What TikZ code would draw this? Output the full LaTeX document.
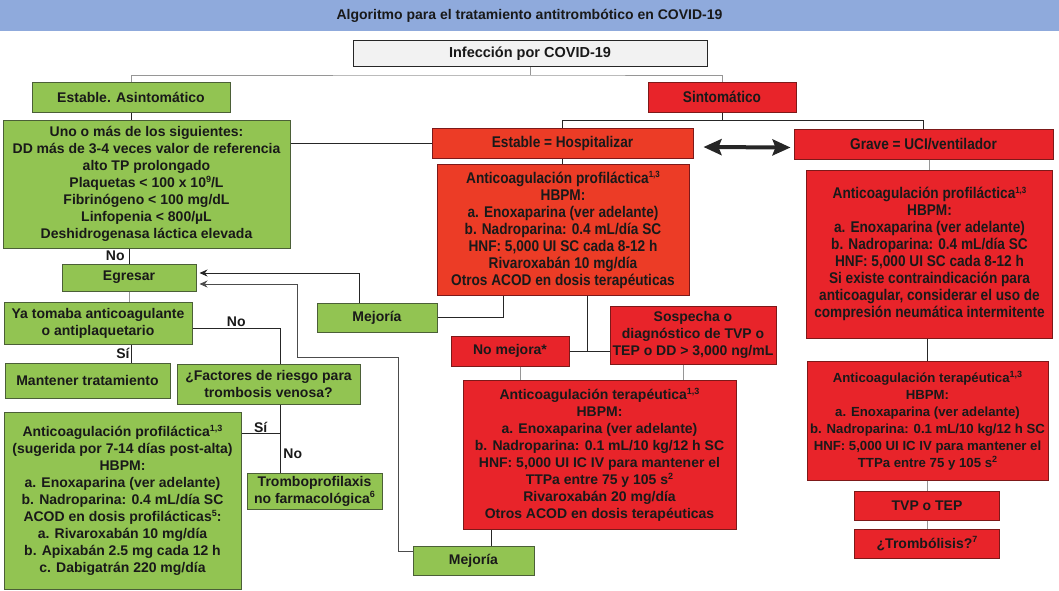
\documentclass[tikz,border=0pt]{standalone}
\usepackage{fontspec}
\setmainfont{Liberation Sans}
\newfontfamily\narrowfont[FakeStretch=0.88]{Liberation Sans}
\usetikzlibrary{arrows.meta}

\definecolor{titleblue}{RGB}{143,170,220}
\definecolor{boxgreen}{RGB}{146,196,82}
\definecolor{greenedge}{RGB}{75,95,55}
\definecolor{boxred}{RGB}{232,36,42}
\definecolor{boxorange}{RGB}{236,60,38}
\definecolor{rededge}{RGB}{125,25,25}
\definecolor{boxgray}{RGB}{242,242,242}
\definecolor{linegray}{RGB}{150,150,150}

\newcommand{\supr}[1]{\raisebox{0.7ex}{\fontsize{9}{9}\selectfont #1}}

\begin{document}
\begin{tikzpicture}[
        x=1pt, y=-1pt,
        every node/.style={font=\bfseries\fontsize{14}{17}\selectfont, text=black!90, align=center, inner sep=1pt},
        sz/.style 2 args={minimum width=#1pt, minimum height=#2pt},
        gbox/.style={draw=greenedge, line width=1pt, fill=boxgreen},
        rbox/.style={draw=rededge, line width=1pt, fill=boxred},
        obox/.style={draw=rededge, line width=1pt, fill=boxorange},
        narrow/.style={font=\narrowfont\bfseries\fontsize{15.5}{17}\selectfont},
        conn/.style={line width=0.8pt, draw=black!85},
        gconn/.style={line width=0.8pt, draw=linegray},
        arr/.style={conn, shorten >=3pt, -{Stealth[length=8pt,width=7pt]}},
        dbl/.style={line width=4pt, draw=black!85, shorten <=1pt, shorten >=1pt,
            {Stealth[length=18pt,width=16pt,inset=3pt]}-{Stealth[length=18pt,width=16pt,inset=3pt]}}
    ]
        \useasboundingbox (0,0) rectangle (1059,590);

        % Title and start
        \node[fill=titleblue, sz={1059}{31}, font=\bfseries\fontsize{14}{16}\selectfont] (title) at (529.5,15.5)
            {Algoritmo para el tratamiento antitrombótico en COVID-19};
        \node[draw=black!85, line width=1pt, fill=boxgray, sz={354}{26}, font=\bfseries\fontsize{14.5}{17}\selectfont] (infec) at (530,53.5) {Infección por COVID-19};

        % Left column
        \node[gbox, sz={198}{30}] (asin) at (131,97) {Estable. Asintomático};
        \node[gbox, sz={287}{128}] (uno) at (146.5,184) {Uno o más de los siguientes:\\
            DD más de 3-4 veces valor de referencia\\alto TP prolongado\\
            Plaquetas < 100 x 10\supr{9}/L\\Fibrinógeno < 100 mg/dL\\
            Linfopenia < 800/µL\\Deshidrogenasa láctica elevada};
        \node[gbox, sz={134}{27}] (egresar) at (129,277.5) {Egresar};
        \node[gbox, sz={188}{42}] (yatom) at (98,323) {Ya tomaba anticoagulante\\o antiplaquetario};
        \node[gbox, sz={165}{35}] (mant) at (87.5,380.5) {Mantener tratamiento};
        \node[gbox, sz={183}{40}] (fact) at (268.5,384) {¿Factores de riesgo para\\trombosis venosa?};
        \node[gbox, sz={237}{177}] (profa) at (122.5,500.5) {Anticoagulación profiláctica\supr{1,3}\\
            (sugerida por 7-14 días post-alta)\\HBPM:\\a. Enoxaparina (ver adelante)\\
            b. Nadroparina: 0.4 mL/día SC\\ACOD en dosis profilácticas\supr{5}:\\
            a. Rivaroxabán 10 mg/día\\b. Apixabán 2.5 mg cada 12 h\\c. Dabigatrán 220 mg/día};
        \node[gbox, sz={135}{36}] (trombo) at (314.5,491) {Tromboprofilaxis\\no farmacológica\supr{6}};
        \node[gbox, sz={120}{29}] (mej1) at (377,317.5) {Mejoría};
        \node[gbox, sz={121}{29}] (mej2) at (473.5,560.5) {Mejoría};

        % Middle column
        \node[rbox, narrow, sz={148}{30}] (sint) at (722,97) {Sintomático};
        \node[obox, narrow, sz={261}{30}] (hosp) at (562.5,143.5) {Estable = Hospitalizar};
        \node[obox, narrow, sz={252}{131}] (profh) at (563,230) {Anticoagulación profiláctica\supr{1,3}\\
            HBPM:\\a. Enoxaparina (ver adelante)\\b. Nadroparina: 0.4 mL/día SC\\
            HNF: 5,000 UI SC cada 8-12 h\\Rivaroxabán 10 mg/día\\Otros ACOD en dosis terapéuticas};
        \node[rbox, sz={118}{30}] (nomej) at (510,351) {No mejora*};
        \node[rbox, sz={166}{58}] (sosp) at (693,335) {Sospecha o\\diagnóstico de TVP o\\TEP o DD > 3,000 ng/mL};
        \node[rbox, sz={273}{149}] (terh) at (599.5,454.5) {Anticoagulación terapéutica\supr{1,3}\\
            HBPM:\\a. Enoxaparina (ver adelante)\\b. Nadroparina: 0.1 mL/10 kg/12 h SC\\
            HNF: 5,000 UI IC IV para mantener el\\TTPa entre 75 y 105 s\supr{2}\\
            Rivaroxabán 20 mg/día\\Otros ACOD en dosis terapéuticas};

        % Right column
        \node[rbox, narrow, sz={259}{30}] (grave) at (923.5,144) {Grave = UCI/ventilador};
        \node[rbox, narrow, sz={246}{168}] (profg) at (929.5,254) {Anticoagulación profiláctica\supr{1,3}\\
            HBPM:\\a. Enoxaparina (ver adelante)\\b. Nadroparina: 0.4 mL/día SC\\
            HNF: 5,000 UI SC cada 8-12 h\\Si existe contraindicación para\\
            anticoagular, considerar el uso de\\compresión neumática intermitente};
        \node[rbox, sz={241}{119}, font=\bfseries\fontsize{13.2}{17}\selectfont] (terg) at (927.5,420.5)
            {Anticoagulación terapéutica\supr{1,3}\\HBPM:\\a. Enoxaparina (ver adelante)\\
            b. Nadroparina: 0.1 mL/10 kg/12 h SC\\HNF: 5,000 UI IC IV para mantener el\\
            TTPa entre 75 y 105 s\supr{2}};
        \node[rbox, sz={145}{29}] (tvp) at (927,505.5) {TVP o TEP};
        \node[rbox, sz={145}{29}] (tromb) at (927,543.5) {¿Trombólisis?\supr{7}};

        % Top split
        \draw[gconn] (infec.south) -- ++(0,8) coordinate (top);
        \draw[gconn] (asin.north) |- (top) -| (sint.north);
        \draw[conn] (sint.south) -- ++(0,8) coordinate (mid);
        \draw[conn] (hosp.north) |- (mid) -| (grave.north);
        \draw[dbl] ([xshift=9pt,yshift=-3.5pt]hosp.east) -- ([xshift=-2pt,yshift=-3.5pt]grave.west);

        % Asymptomatic branch
        \draw[conn] (asin.south) -- (asin.south |- uno.north);
        \draw[conn] (uno.east |- hosp.west) -- (hosp.west);
        \draw[conn] (egresar.north |- uno.south) -- node[left, xshift=-3pt] {No} (egresar.north);
        \draw[gconn] (egresar.south) -- (egresar.south |- yatom.north);
        \draw[conn] ([xshift=33pt]yatom.south) -- node[left] {Sí} ([xshift=33pt]yatom.south |- mant.north);
        \draw[conn] ([yshift=-5pt]yatom.east) -| node[pos=0.25, above] {No} ([xshift=11.5pt]fact.north);
        \draw[conn] ([xshift=11.5pt]fact.south) -- coordinate[pos=0.43] (si) node[pos=0.72, right, xshift=2pt] {No}
            ([xshift=11.5pt]fact.south |- trombo.north);
        \draw[conn] (si) -- node[above] {Sí} (si -| profa.east);

        % Hospital branch
        \draw[conn] (hosp.south) -- (hosp.south |- profh.north);
        \draw[conn] ([xshift=-60pt]profh.south) |- (mej1.east);
        \draw[conn] ([xshift=24pt]profh.south) -- ([xshift=24pt]profh.south |- nomej.east);
        \draw[conn] (nomej.east) -- (nomej.east -| sosp.west);
        \draw[gconn] ([xshift=10pt]nomej.south) -- ([xshift=10pt]nomej.south |- terh.north);
        \draw[gconn] ([xshift=-10pt]sosp.south) -- ([xshift=-10pt]sosp.south |- terh.north);
        \draw[conn] ([xshift=17.5pt]mej2.north) -- ([xshift=17.5pt]mej2.north |- terh.south);

        % Intensive care branch
        \draw[gconn] (profg.north |- grave.south) -- (profg.north);
        \draw[conn] (terg.north |- profg.south) -- (terg.north);
        \foreach \a/\b in {terg/tvp, tvp/tromb}
            \draw[gconn] (\a.south -| \b.north) -- (\b.north);

        % Back to discharge
        \coordinate (r1) at (398,357);
        \coordinate (r2) at (297,357);
        \draw[arr] ([xshift=-18pt]mej1.north) |- ([yshift=4.5pt]egresar.east);
        \draw[arr, draw=black!70] ([yshift=9.5pt]mej2.west) -| (r1) -- (r2) |- ([yshift=-6.5pt]egresar.east);
    \end{tikzpicture}
\end{document}
